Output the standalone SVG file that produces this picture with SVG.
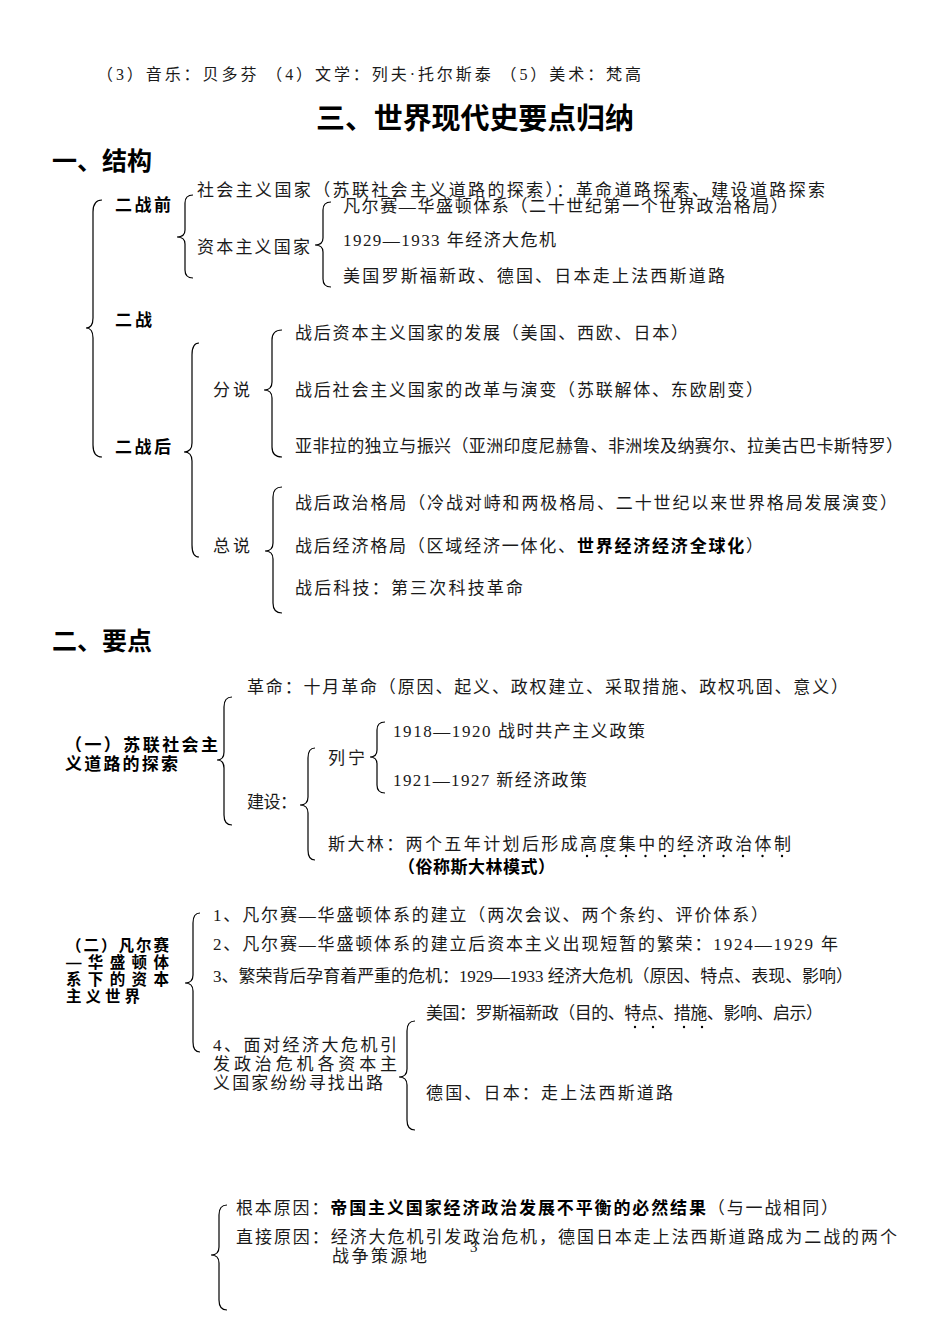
<svg xmlns="http://www.w3.org/2000/svg" width="950" height="1342" viewBox="0 0 950 1342">
<style>
text{font-family:"Liberation Serif","Noto Sans CJK SC",serif;font-size:17px;fill:#1a1a1a}
.b{font-family:"Liberation Sans","Noto Sans CJK SC",sans-serif;font-weight:bold;fill:#000}
.h{font-size:25px}
.ttl{font-size:29px}
.top{font-size:16px}
.s2{font-size:15.5px}
.pn{font-size:15px}
.br{fill:none;stroke:#000;stroke-width:1.2}
.dot{fill:#000}
</style>
<rect width="950" height="1342" fill="#fff"/>
<g id="header">
<text class="top" x="97" y="80" textLength="544">（3）音乐：贝多芬 （4）文学：列夫·托尔斯泰 （5）美术：梵高</text>
<text class="b ttl" x="316" y="129" textLength="318">三、世界现代史要点归纳</text>
<text class="b h" x="52" y="170" textLength="100">一、结构</text>
</g>
<g id="connectors">
<path class="br" d="M102,200 Q93,200 93,212 L93,318 Q93,328 86,328 Q93,328 93,338 L93,445 Q93,457 102,457"/>
<path class="br" d="M193,195 Q185,195 185,203 L185,230 Q185,237 177,237 Q185,237 185,244 L185,270 Q185,278 193,278"/>
<path class="br" d="M331,202 Q323,202 323,210 L323,238 Q323,245 315,245 Q323,245 323,252 L323,279 Q323,287 331,287"/>
<path class="br" d="M199,343 Q192,343 192,355 L192,443 Q192,452 184,452 Q192,452 192,461 L192,545 Q192,557 199,557"/>
<path class="br" d="M282,330 Q272,330 272,340 L272,382 Q272,390 264,390 Q272,390 272,398 L272,447 Q272,457 282,457"/>
<path class="br" d="M282,487 Q273,487 273,497 L273,543 Q273,551 265,551 Q273,551 273,559 L273,603 Q273,613 282,613"/>
<path class="br" d="M232,697 Q224,697 224,707 L224,752 Q224,760 217,760 Q224,760 224,768 L224,815 Q224,825 232,825"/>
<path class="br" d="M315,748 Q308,748 308,758 L308,797 Q308,805 300,805 Q308,805 308,813 L308,850 Q308,860 315,860"/>
<path class="br" d="M385,722 Q377,722 377,730 L377,750 Q377,757 370,757 Q377,757 377,764 L377,785 Q377,793 385,793"/>
<path class="br" d="M200,913 Q193,913 193,923 L193,975 Q193,983 185,983 Q193,983 193,991 L193,1042 Q193,1052 200,1052"/>
<path class="br" d="M415,1021 Q407,1021 407,1031 L407,1069 Q407,1077 399,1077 Q407,1077 407,1085 L407,1120 Q407,1130 415,1130"/>
<path class="br" d="M227,1205 Q219,1205 219,1215 L219,1247 Q219,1255 211,1255 Q219,1255 219,1263 L219,1300 Q219,1310 227,1310"/>
</g>
<g id="n-erzhanqian"><text class="b" x="115" y="211" textLength="56">二战前</text></g>
<g id="n-erzhan"><text class="b" x="115" y="326" textLength="37">二战</text></g>
<g id="n-erzhanhou"><text class="b" x="115" y="453" textLength="56">二战后</text></g>
<g id="n-shehui"><text x="197" y="196" textLength="628">社会主义国家（苏联社会主义道路的探索）：革命道路探索、建设道路探索</text></g>
<g id="n-ziben"><text x="197" y="253" textLength="113">资本主义国家</text></g>
<g id="n-vw"><text x="343" y="212" textLength="445">凡尔赛—华盛顿体系（二十世纪第一个世界政治格局）</text></g>
<g id="n-crisis"><text x="343" y="246" textLength="213">1929—1933 年经济大危机</text></g>
<g id="n-newdeal"><text x="343" y="282" textLength="382">美国罗斯福新政、德国、日本走上法西斯道路</text></g>
<g id="n-fenshuo"><text x="213" y="396" textLength="37">分说</text></g>
<g id="n-f1"><text x="295" y="339" textLength="393">战后资本主义国家的发展（美国、西欧、日本）</text></g>
<g id="n-f2"><text x="295" y="396" textLength="468">战后社会主义国家的改革与演变（苏联解体、东欧剧变）</text></g>
<g id="n-f3"><text x="295" y="452" textLength="608">亚非拉的独立与振兴（亚洲印度尼赫鲁、非洲埃及纳赛尔、拉美古巴卡斯特罗）</text></g>
<g id="n-zongshuo"><text x="213" y="552" textLength="37">总说</text></g>
<g id="n-z1"><text x="295" y="509" textLength="602">战后政治格局（冷战对峙和两极格局、二十世纪以来世界格局发展演变）</text></g>
<g id="n-z2"><text x="295" y="552" textLength="468">战后经济格局（区域经济一体化、<tspan font-weight="bold" fill="#000">世界经济经济全球化</tspan>）</text></g>
<g id="n-z3"><text x="295" y="594" textLength="228">战后科技：第三次科技革命</text></g>
<g id="h2"><text class="b h" x="52" y="650" textLength="100">二、要点</text></g>
<g id="n-sec1">
<text class="b" x="65" y="751" textLength="153">（一）苏联社会主</text>
<text class="b" x="65" y="770" textLength="113">义道路的探索</text>
</g>
<g id="n-geming"><text x="247" y="693" textLength="601">革命：十月革命（原因、起义、政权建立、采取措施、政权巩固、意义）</text></g>
<g id="n-jianshe"><text x="247" y="808" textLength="50">建设：</text></g>
<g id="n-liening"><text x="328" y="764" textLength="37">列宁</text></g>
<g id="n-l1"><text x="393" y="737" textLength="252">1918—1920 战时共产主义政策</text></g>
<g id="n-l2"><text x="393" y="786" textLength="194">1921—1927 新经济政策</text></g>
<g id="n-stalin">
<text x="328" y="850" textLength="463">斯大林：两个五年计划后形成高度集中的经济政治体制</text>
<g class="dot">
<circle cx="587" cy="856" r="1.2"/><circle cx="606.5" cy="856" r="1.2"/><circle cx="626" cy="856" r="1.2"/><circle cx="645.5" cy="856" r="1.2"/><circle cx="665" cy="856" r="1.2"/><circle cx="684.5" cy="856" r="1.2"/><circle cx="704" cy="856" r="1.2"/><circle cx="723.5" cy="856" r="1.2"/><circle cx="743" cy="856" r="1.2"/><circle cx="762.5" cy="856" r="1.2"/><circle cx="782" cy="856" r="1.2"/>
</g>
<text class="b" x="398" y="873" textLength="157">（俗称斯大林模式）</text>
</g>
<g id="n-sec2">
<text class="b s2" x="66" y="951" textLength="103">（二）凡尔赛</text>
<text class="b s2" x="66" y="968" textLength="103">—华盛顿体</text>
<text class="b s2" x="66" y="985" textLength="103">系下的资本</text>
<text class="b s2" x="66" y="1002" textLength="74">主义世界</text>
</g>
<g id="n-p1"><text x="213" y="921" textLength="555">1、凡尔赛—华盛顿体系的建立（两次会议、两个条约、评价体系）</text></g>
<g id="n-p2"><text x="213" y="950" textLength="625">2、凡尔赛—华盛顿体系的建立后资本主义出现短暂的繁荣：1924—1929 年</text></g>
<g id="n-p3"><text x="213" y="982" textLength="640">3、繁荣背后孕育着严重的危机：1929—1933 经济大危机（原因、特点、表现、影响）</text></g>
<g id="n-p4">
<text x="213" y="1051" textLength="184">4、面对经济大危机引</text>
<text x="213" y="1070" textLength="184">发政治危机各资本主</text>
<text x="213" y="1089" textLength="170">义国家纷纷寻找出路</text>
</g>
<g id="n-usa">
<text x="426" y="1019" textLength="397">美国：罗斯福新政（目的、特点、措施、影响、启示）</text>
<g class="dot"><circle cx="635" cy="1027" r="1.2"/><circle cx="653" cy="1027" r="1.2"/><circle cx="684" cy="1027" r="1.2"/><circle cx="702" cy="1027" r="1.2"/></g>
</g>
<g id="n-gerjp"><text x="426" y="1099" textLength="247">德国、日本：走上法西斯道路</text></g>
<g id="n-root"><text x="236" y="1214" textLength="602">根本原因：<tspan font-weight="bold" fill="#000">帝国主义国家经济政治发展不平衡的必然结果</tspan>（与一战相同）</text></g>
<g id="n-direct">
<text x="236" y="1243" textLength="661">直接原因：经济大危机引发政治危机，德国日本走上法西斯道路成为二战的两个</text>
<text x="332" y="1262" textLength="95">战争策源地</text>
</g>
<g id="pagenum"><text class="pn" x="470" y="1252">3</text></g>
</svg>
